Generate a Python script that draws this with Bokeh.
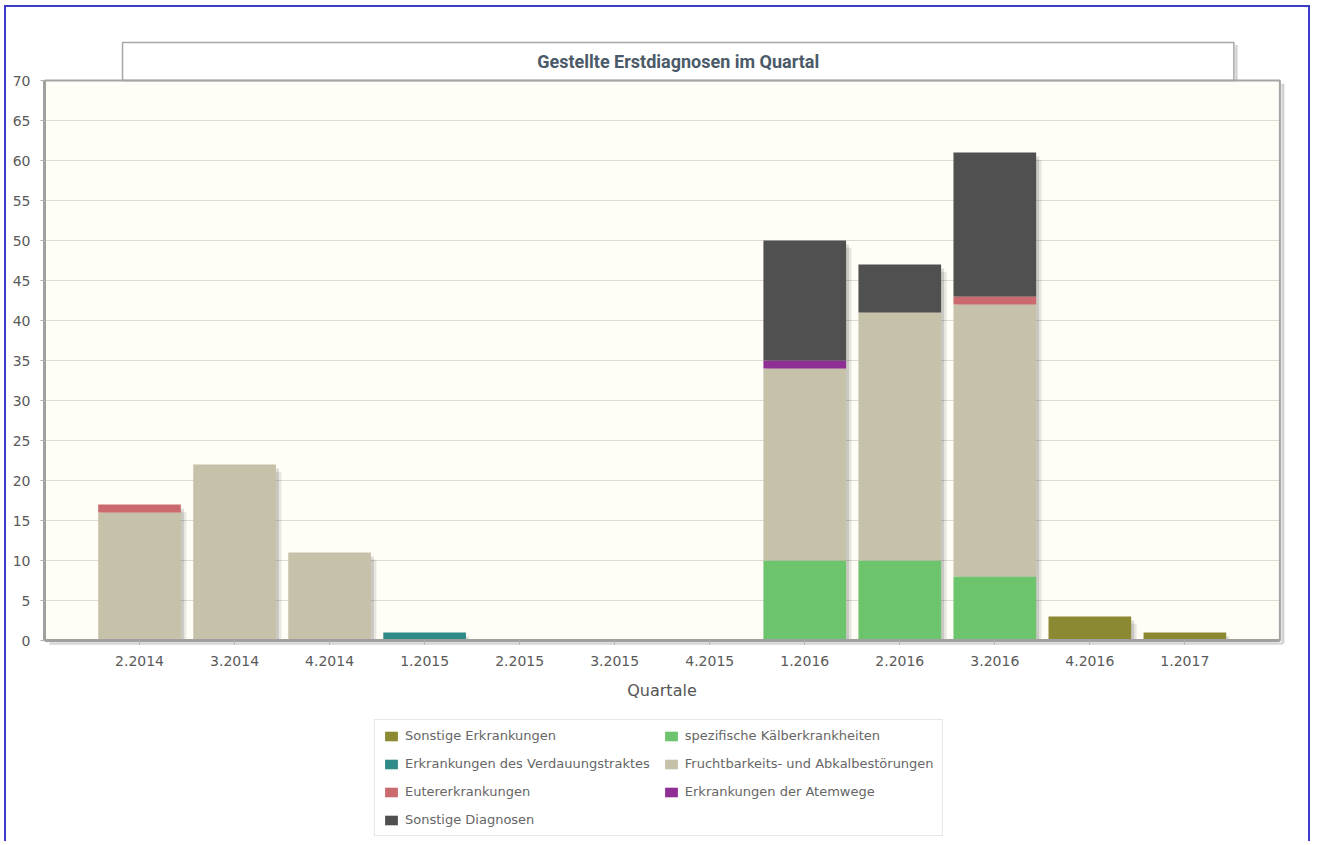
from bokeh.plotting import figure
from bokeh.models import Range1d, FixedTicker, Legend, LegendItem, ColumnDataSource
from bokeh.transform import dodge
from bokeh.embed import file_html
from bokeh.resources import INLINE
from bokeh.core.properties import value

# ---------------- data ----------------
quarters = ["2.2014", "3.2014", "4.2014", "1.2015", "2.2015", "3.2015",
            "4.2015", "1.2016", "2.2016", "3.2016", "4.2016", "1.2017"]
series_names = ["Sonstige Erkrankungen",
                "spezifische Kälberkrankheiten",
                "Erkrankungen des Verdauungstraktes",
                "Fruchtbarkeits- und Abkalbestörungen",
                "Eutererkrankungen",
                "Erkrankungen der Atemwege",
                "Sonstige Diagnosen"]
sonstige_erkrankungen = [0, 0, 0, 0, 0, 0, 0, 0, 0, 0, 3, 1]
kaelberkrankheiten    = [0, 0, 0, 0, 0, 0, 0, 10, 10, 8, 0, 0]
verdauungstrakt       = [0, 0, 0, 1, 0, 0, 0, 0, 0, 0, 0, 0]
fruchtbarkeit         = [16, 22, 11, 0, 0, 0, 0, 24, 31, 34, 0, 0]
euter                 = [1, 0, 0, 0, 0, 0, 0, 0, 0, 1, 0, 0]
atemwege              = [0, 0, 0, 0, 0, 0, 0, 1, 0, 0, 0, 0]
sonstige_diagnosen    = [0, 0, 0, 0, 0, 0, 0, 15, 6, 18, 0, 0]
y_ticks = list(range(0, 71, 5))
title_text = "Gestellte Erstdiagnosen im Quartal"
x_title = "Quartale"

# ---------------- style ----------------
colors = ["#8b8a33", "#6cc46c", "#2e8b88", "#c6c1a9", "#cb6a6e", "#8f2f95", "#505050"]
BAR_W = 0.87
PX = 1 / 95.0          # one horizontal pixel in data units
PY = 1 / 8.0           # one vertical pixel in data units
Y_MAX = 70
N = len(quarters)
FONT = "DejaVu Sans"
W, H = 1306, 836
TOP = 33

series = [sonstige_erkrankungen, kaelberkrankheiten, verdauungstrakt, fruchtbarkeit,
          euter, atemwege, sonstige_diagnosen]
keys = ["s%d" % i for i in range(len(series))]
xpos = list(range(1, N + 1))
data = {"x": xpos}
for k, s in zip(keys, series):
    data[k] = s
totals = [sum(v) for v in zip(*series)]
data["sh1"] = [max(t - 0.5, 0) for t in totals]
data["sh2"] = [max(t - 0.9, 0) for t in totals]
source = ColumnDataSource(data)

p = figure(width=W, height=H,
           x_range=Range1d(0, N + 1 + 0.08), y_range=Range1d(75 - (H - TOP) * PY, 75),
           output_backend="svg", toolbar_location=None,
           min_border_left=38, min_border_right=25, min_border_top=TOP, min_border_bottom=0,
           background_fill_color="white", border_fill_color="white",
           outline_line_color=None,
           styles={"border-left": "2px solid #3c3cc8", "border-top": "2px solid #3c3cc8",
                   "border-right": "2px solid #3c3cc8",
                   "margin-left": "4px", "margin-top": "5px"})

# plot area background
bg = p.quad(left=0, right=N + 1, bottom=0, top=Y_MAX, fill_color="#fffdf6", line_color=None)
bg.level = "image"
# horizontal grid lines
gl = p.segment(x0=0, x1=N + 1, y0=y_ticks, y1=y_ticks, line_color="#dedcd2", line_width=1)
gl.level = "image"

# title box (with a soft shadow)
tb_left, tb_right, tb_top = 0.821, 12.516, 74.75
p.segment(x0=[tb_right + 2.5 * PX], x1=[tb_right + 2.5 * PX], y0=[Y_MAX], y1=[tb_top - 0.3],
          line_color="#d4d4d4", line_width=2.5)
p.quad(left=tb_left, right=tb_right, bottom=Y_MAX, top=tb_top,
       fill_color="white", line_color="#a6a6a6", line_width=1.5)
p.text(x=[(tb_left + tb_right) / 2], y=[72.38], text=[title_text],
       text_font=value("Roboto"), text_font_style="bold", text_font_size="18px",
       text_color="#4b5a68", text_align="center", text_baseline="middle")

# plot area border + shadows on the right and below
p.segment(x0=[N + 1 + 3 * PX], x1=[N + 1 + 3 * PX], y0=[-3 * PY], y1=[Y_MAX - 0.4],
          line_color="#d2d2d2", line_width=3)
p.segment(x0=[0.05], x1=[N + 1 + 3 * PX], y0=[-3 * PY], y1=[-3 * PY],
          line_color="#d6d6d6", line_width=2.5)
p.quad(left=0, right=N + 1, bottom=0, top=Y_MAX, fill_color=None,
       line_color="#a4a4a4", line_width=2)

# bar shadows
p.vbar(x=dodge("x", 3 * PX), width=BAR_W, top="sh1", bottom=0, source=source,
       fill_color="black", fill_alpha=0.13, line_color=None)
p.vbar(x=dodge("x", 5.5 * PX), width=BAR_W, top="sh2", bottom=0, source=source,
       fill_color="black", fill_alpha=0.09, line_color=None)

# stacked bars
renderers = p.vbar_stack(keys, x="x", width=BAR_W, color=colors, source=source,
                         line_color=None)

# axes
p.xgrid.visible = False
p.ygrid.visible = False
ax = p.yaxis[0]
ax.ticker = FixedTicker(ticks=y_ticks)
ax.bounds = (0, Y_MAX)
xa = p.xaxis[0]
xa.fixed_location = 0
xa.ticker = FixedTicker(ticks=xpos)
xa.major_label_overrides = {x: q for x, q in zip(xpos, quarters)}
xa.bounds = (0, N + 1)
for a in (ax, xa):
    a.axis_line_color = "#a0a0a0"
    a.axis_line_width = 3
    a.major_tick_line_color = "#b0b0b0"
    a.major_tick_out = 4
    a.major_tick_in = 0
    a.minor_tick_line_color = None
    a.major_label_text_font = FONT
    a.major_label_text_font_size = "14px"
    a.major_label_text_color = "#5a5a5a"
ax.major_label_standoff = 10
xa.major_label_standoff = 11
xa.axis_label = x_title
xa.axis_label_text_font = FONT
xa.axis_label_text_font_size = "16px"
xa.axis_label_text_font_style = "normal"
xa.axis_label_text_color = "#555555"
xa.axis_label_standoff = 12

# legend (below the axis title)
items = [LegendItem(label=n, renderers=[r]) for n, r in zip(series_names, renderers)]
legend = Legend(items=items, orientation="horizontal", ncols=2,
                location=(330, 7),
                glyph_width=16, glyph_height=12, label_height=12, label_standoff=6,
                spacing=13, padding=8, margin=0,
                border_line_color="#cfcfcf", border_line_width=1,
                background_fill_color="white", background_fill_alpha=1,
                label_text_font=FONT, label_text_font_size="13px",
                label_text_color="#666666")
p.add_layout(legend, "center")

open("out.html", "w").write(file_html(p, INLINE))
